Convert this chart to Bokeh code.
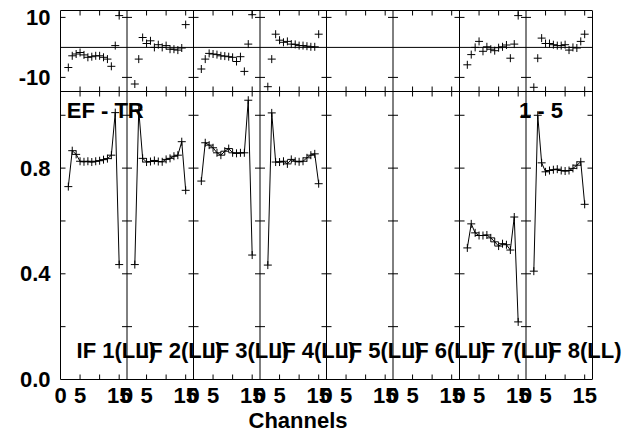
import math
from bokeh.plotting import figure
from bokeh.models import Range1d, FixedTicker, Span, Label, Title, LinearAxis
from bokeh.embed import file_html
from bokeh.resources import INLINE

# ---------------- data ----------------
channels = [2, 3, 4, 5, 6, 7, 8, 9, 10, 11, 12, 13, 14, 15]
if_labels = ["IF 1(LL)", "IF 2(LL)", "IF 3(LL)", "IF 4(LL)",
             "IF 5(LL)", "IF 6(LL)", "IF 7(LL)", "IF 8(LL)"]

amp_if1 = [0.730, 0.866, 0.852, 0.826, 0.824, 0.826, 0.823, 0.826, 0.828, 0.832, 0.836, 0.849, 1.010, 0.435]
amp_if2 = [0.435, 1.020, 0.837, 0.823, 0.825, 0.829, 0.825, 0.824, 0.833, 0.837, 0.845, 0.849, 0.900, 0.716]
amp_if3 = [0.751, 0.896, 0.887, 0.877, 0.858, 0.849, 0.864, 0.874, 0.858, 0.856, 0.858, 0.858, 1.057, 0.471]
amp_if4 = [0.433, 1.009, 0.823, 0.823, 0.826, 0.816, 0.833, 0.826, 0.824, 0.826, 0.839, 0.849, 0.854, 0.741]
amp_if5 = []
amp_if6 = []
amp_if7 = [0.498, 0.589, 0.555, 0.545, 0.545, 0.547, 0.536, 0.521, 0.505, 0.514, 0.510, 0.490, 0.615, 0.218]
amp_if8 = [0.410, 1.000, 0.820, 0.786, 0.791, 0.794, 0.796, 0.791, 0.789, 0.791, 0.799, 0.811, 0.824, 0.663]

ph_if1 = [-6.7, -2.8, -2.2, -1.7, -2.5, -3.3, -3.1, -2.8, -2.8, -3.3, -3.9, -6.3, 0.6, 10.6]
ph_if2 = [-12.2, -3.9, 3.3, 1.3, 2.2, 0.0, 0.9, 0.0, 0.6, -0.6, -0.6, -0.9, -0.2, 7.6]
ph_if3 = [-7.2, -3.9, -2.0, -2.2, -2.4, -2.8, -2.9, -3.1, -3.3, -4.7, -3.1, -8.0, 1.1, 10.9]
ph_if4 = [-13.1, -3.9, 4.4, 2.4, 1.7, 2.0, 1.1, 1.0, 0.6, 0.6, 0.4, 0.2, 0.2, 4.4]
ph_if5 = []
ph_if6 = []
ph_if7 = [-5.8, -2.4, 0.0, 2.0, -1.3, 0.2, -0.6, -1.1, -0.1, 0.2, 0.8, -3.6, 1.1, 10.6]
ph_if8 = [-13.3, -3.6, 3.1, 1.3, 1.3, 0.9, 0.6, 0.6, 0.9, -0.9, 0.0, -0.2, 2.0, 4.4]

amps = [amp_if1, amp_if2, amp_if3, amp_if4, amp_if5, amp_if6, amp_if7, amp_if8]
phases = [ph_if1, ph_if2, ph_if3, ph_if4, ph_if5, ph_if6, ph_if7, ph_if8]

amp_ticks = [0.0, 0.2, 0.4, 0.6, 0.8, 1.0]
amp_tick_labels = ["0.0", "", "0.4", "", "0.8", ""]
phase_ticks = [-10, 10]
phase_tick_labels = ["-10", "10"]
chan_ticks = [0, 5, 10, 15]
chan_tick_labels = ["0", "5", "", "15"]

# ---------------- layout constants ----------------
N_IF = 8
CH_SPAN = 17            # channel extent of one panel
X_MAX = N_IF * CH_SPAN  # right edge of the plotted box
BOX_W = 532             # px width of the plotted box
FRAME_W = 565           # frame is a bit wider so the last label is not clipped
AMP_TOP = 1.09          # top of amplitude panel
PH_LO, PH_HI = -14.7, 12.3
PH_FRAC = 81.0 / 369.0  # fraction of frame height used by phase strip

x_end = X_MAX * FRAME_W / BOX_W
y_end = AMP_TOP / (1.0 - PH_FRAC)
ph_start = PH_HI - (PH_HI - PH_LO) / PH_FRAC


def amp_of_phase(v):
    return (v - ph_start) / (PH_HI - ph_start) * y_end


FONT = "Liberation Sans"
FS = "22px"

p = figure(frame_width=FRAME_W, frame_height=369,
           x_range=Range1d(0, x_end), y_range=Range1d(0, y_end),
           output_backend="svg", toolbar_location=None,
           min_border_left=60, min_border_right=2, min_border_top=10, min_border_bottom=10)
p.extra_y_ranges = {"phase": Range1d(ph_start, PH_HI)}
p.grid.visible = False
p.outline_line_color = None
p.background_fill_color = "white"
p.border_fill_color = "white"

# x axis (bottom) - its line is the bottom border of the box
xt = []
xlab = {}
for k in range(N_IF):
    for t, lab in zip(chan_ticks, chan_tick_labels):
        xt.append(k * CH_SPAN + t)
        xlab[k * CH_SPAN + t] = lab
xa = p.xaxis[0]
xa.ticker = FixedTicker(ticks=xt)
xa.major_label_overrides = xlab
xa.bounds = (0, X_MAX)
xa.major_tick_in = 0
xa.major_tick_out = 0
xa.minor_tick_in = 0
xa.minor_tick_out = 0
xa.axis_line_color = "black"
xa.axis_line_width = 1
xa.major_label_standoff = 8
xa.major_label_text_font = FONT
xa.major_label_text_font_style = "bold"
xa.major_label_text_font_size = FS
xa.major_label_text_color = "black"

# top border
top_ax = LinearAxis(ticker=FixedTicker(ticks=[]), bounds=(0, X_MAX),
                    major_tick_in=0, major_tick_out=0, minor_tick_in=0, minor_tick_out=0,
                    axis_line_color="black", axis_line_width=1,
                    major_label_text_font_size="0px")
p.add_layout(top_ax, "above")

# y axis (amplitude ticks + phase ticks expressed on the same scale)
yt = list(amp_ticks)
ylab = dict(zip(amp_ticks, amp_tick_labels))
for v, lab in zip(phase_ticks, phase_tick_labels):
    a = amp_of_phase(v)
    yt.append(a)
    ylab[a] = lab
ya = p.yaxis[0]
ya.ticker = FixedTicker(ticks=yt)
ya.major_label_overrides = ylab
ya.major_tick_in = 0
ya.major_tick_out = 0
ya.minor_tick_in = 0
ya.minor_tick_out = 0
ya.axis_line_color = "black"
ya.axis_line_width = 1
ya.major_label_standoff = 10
ya.major_label_text_font = FONT
ya.major_label_text_font_style = "bold"
ya.major_label_text_font_size = FS
ya.major_label_text_color = "black"

p.add_layout(Title(text="Channels", align="left", offset=188, standoff=0,
                   text_font=FONT, text_font_style="bold", text_font_size=FS,
                   text_color="black"), "below")

# panel separators + right border, strip boundary, phase zero line
for k in range(1, N_IF + 1):
    p.add_layout(Span(location=k * CH_SPAN, dimension="height", line_color="black", line_width=1))
p.segment(x0=[0], x1=[X_MAX], y0=[AMP_TOP], y1=[AMP_TOP], line_color="black", line_width=1)
p.segment(x0=[0], x1=[X_MAX], y0=[0], y1=[0], line_color="black", line_width=1,
          y_range_name="phase")

# inward tick marks
sep_x = [k * CH_SPAN for k in range(N_IF)]           # left edge + separators (both sides)
ax_, ay_ = [], []
for sx in sep_x:
    for v in amp_ticks[1:]:
        ax_.append(sx)
        ay_.append(v)
p.scatter(ax_, ay_, marker="dash", size=10, line_color="black", line_width=1)
px_, py_ = [], []
for sx in sep_x:
    for v in phase_ticks:
        px_.append(sx)
        py_.append(v)
p.scatter(px_, py_, marker="dash", size=10, line_color="black", line_width=1, y_range_name="phase")
# right border: inward only
p.ray(x=[X_MAX] * len(amp_ticks[1:]), y=amp_ticks[1:], length=5, length_units="screen",
      angle=math.pi, line_color="black", line_width=1)
p.ray(x=[X_MAX] * len(phase_ticks), y=phase_ticks, length=5, length_units="screen",
      angle=math.pi, line_color="black", line_width=1, y_range_name="phase")
tx_, ty_ = [], []
for k in range(N_IF):
    for t in chan_ticks[1:]:
        for yy in (0.0, AMP_TOP, y_end):
            tx_.append(k * CH_SPAN + t)
            ty_.append(yy)
p.scatter(tx_, ty_, marker="dash", angle=math.pi / 2, size=10, line_color="black", line_width=1)

# data
for k in range(N_IF):
    if amps[k]:
        xs = [k * CH_SPAN + c for c in channels[:len(amps[k])]]
        p.line(xs, amps[k], line_color="black", line_width=1)
        p.scatter(xs, amps[k], marker="cross", size=8, line_color="black", line_width=1)
    if phases[k]:
        xph = [k * CH_SPAN + c for c in channels[:len(phases[k])]]
        p.scatter(xph, phases[k], marker="cross", size=8, line_color="black", line_width=1,
                  y_range_name="phase")

# texts
for k, lab in enumerate(if_labels):
    p.add_layout(Label(x=k * CH_SPAN + 4.1, y=0.11, text=lab, text_font=FONT,
                       text_font_style="bold", text_font_size=FS,
                       text_baseline="middle", text_align="left", text_color="black"))
p.add_layout(Label(x=1.6, y=1.018, text="EF - TR", text_font=FONT, text_font_style="bold",
                   text_font_size=FS, text_baseline="middle", text_color="black"))
p.add_layout(Label(x=117.2, y=1.018, text="1 - 5", text_font=FONT, text_font_style="bold",
                   text_font_size=FS, text_baseline="middle", text_color="black"))

open("out.html", "w").write(file_html(p, INLINE))
